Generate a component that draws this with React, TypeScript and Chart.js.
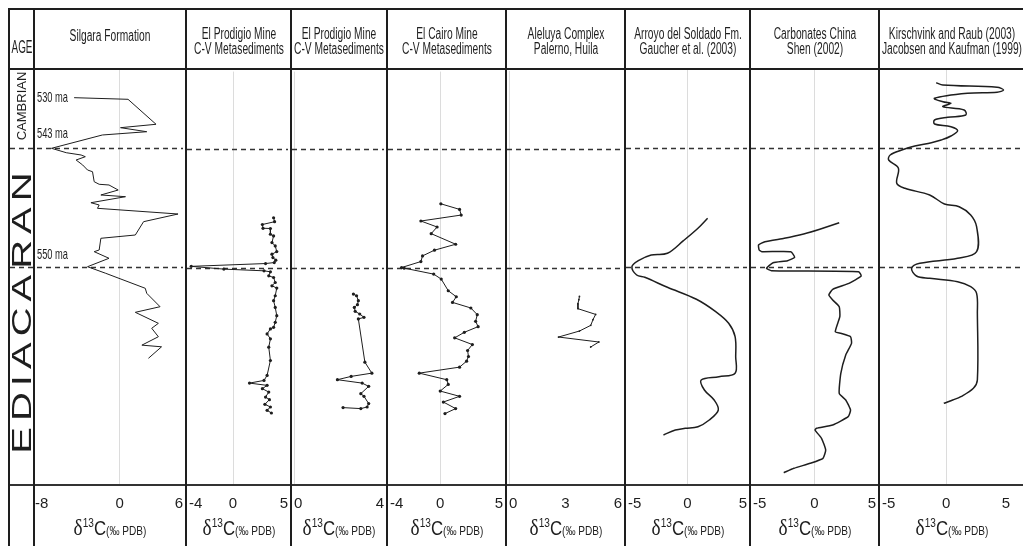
import React, { useEffect, useRef } from 'react';
import { Chart, registerables } from 'chart.js';

Chart.register(...registerables);

// ---------------- data ----------------
// Vertical axis: relative stratigraphic position shared by all columns (0 = top, 100 = base)
const BOUNDARIES = [18.8, 47.5]; // 543 ma and 550 ma correlation lines
const AGE_LABELS = ['530 ma', '543 ma', '550 ma'];
const AGE_LABEL_POS = [6.8, 15.3, 44.6];

const COLUMN_TITLES = [
  ['Silgara Formation'],
  ['El Prodigio Mine', 'C-V Metasediments'],
  ['El Prodigio Mine', 'C-V Metasediments'],
  ['El Cairo Mine', 'C-V Metasediments'],
  ['Aleluya Complex', 'Palerno, Huila'],
  ['Arroyo del Soldado Fm.', 'Gaucher et al. (2003)'],
  ['Carbonates China', 'Shen (2002)'],
  ['Kirschvink and Raub (2003)', 'Jacobsen and Kaufman (1999)'],
];

const X_MIN = [-8, -4, 0, -4, 0, -5, -5, -5];
const X_MAX = [6, 5, 4, 5, 6, 5, 5, 6];
const X_TICKS = [[-8, 0, 6], [-4, 0, 5], [0, 4], [-4, 0, 5], [0, 3, 6], [-5, 0, 5], [-5, 0, 5], [-5, 0, 5]];

const SILGARA_D13C = [-4.30, 0.80, 3.45, 0.09, 2.57, -1.63, -6.44, -5.04, -3.64, -3.24, -4.11, -3.49, -3.03, -2.56, -2.40, -1.93, -1.00, -0.13, -1.77, 0.56, -2.71, -1.93, -2.09, 5.53, 2.27, 1.49, -1.77, -1.93, -2.40, -1.00, -3.03, -1.31, 2.43, 2.57, 3.83, 1.49, 3.67, 3.04, 3.67, 2.11, 3.97, 2.73];
const SILGARA_POS = [6.67, 7.06, 13.08, 13.90, 14.87, 15.66, 18.87, 19.93, 20.48, 20.89, 21.69, 22.89, 24.10, 24.51, 26.92, 27.54, 27.71, 28.92, 30.12, 30.53, 31.98, 32.53, 33.33, 34.70, 36.55, 39.76, 40.55, 43.37, 43.78, 45.37, 47.40, 48.99, 52.60, 53.81, 57.04, 58.39, 61.04, 62.24, 64.27, 66.30, 66.70, 69.47];

const PRODIGIO1_D13C = [3.69, 3.78, 2.67, 2.73, 3.40, 3.40, 3.69, 3.54, 3.84, 3.98, 3.54, 3.63, 3.89, 3.75, 2.96, -3.80, -0.83, 2.82, 3.40, 3.25, 3.69, 3.84, 3.54, 3.98, 3.84, 3.69, 3.84, 3.98, 3.84, 3.69, 3.40, 3.10, 3.40, 3.25, 3.40, 3.10, 2.82, 1.50, 3.10, 2.67, 3.25, 2.96, 3.31, 2.90, 3.40, 3.10, 3.49];
const PRODIGIO1_POS = [35.35, 36.31, 36.99, 37.90, 37.95, 39.35, 39.76, 41.37, 42.17, 43.54, 44.17, 44.99, 45.61, 46.19, 46.43, 47.11, 47.78, 48.19, 48.43, 49.40, 49.81, 51.01, 51.81, 52.36, 54.22, 55.42, 57.04, 59.04, 60.65, 61.86, 62.24, 63.45, 64.65, 66.67, 69.88, 73.49, 74.70, 75.35, 75.90, 76.70, 77.52, 78.72, 79.35, 80.48, 81.13, 81.93, 82.58];

const PRODIGIO2_D13C = [2.64, 2.78, 2.86, 2.82, 2.68, 2.72, 2.92, 3.11, 2.86, 3.15, 3.46, 2.54, 1.93, 3.03, 3.32, 2.97, 3.11, 3.32, 3.25, 2.97, 2.18];
const PRODIGIO2_POS = [53.81, 54.22, 55.42, 56.39, 57.04, 58.00, 58.63, 59.45, 59.83, 70.29, 72.94, 73.73, 74.53, 75.35, 76.14, 77.90, 78.55, 80.31, 81.13, 81.52, 81.28];

const CAIRO_D13C = [0.05, 1.54, 1.67, -1.54, -0.25, -0.72, 1.23, -0.46, -1.41, -1.54, -3.08, -2.87, -0.52, 0.08, 0.64, 1.28, 0.98, 2.44, 2.95, 2.82, 3.02, 1.92, 1.15, 2.56, 2.18, 2.25, 2.10, 1.54, -1.67, 0.52, 0.64, 0.00, 1.54, 0.25, 1.23, 0.38];
const CAIRO_POS = [31.98, 33.33, 34.70, 36.14, 37.59, 39.20, 41.76, 43.20, 44.58, 45.95, 47.40, 47.54, 48.99, 50.19, 53.01, 54.46, 55.83, 57.18, 58.80, 60.41, 61.69, 63.06, 64.41, 66.02, 67.47, 68.92, 70.05, 71.49, 72.94, 74.53, 75.66, 77.28, 78.55, 79.93, 81.52, 82.72];

const ALELUYA_D13C = [3.74, 3.71, 3.66, 3.66, 4.60, 4.46, 4.34, 3.74, 2.63, 4.77, 4.34];
const ALELUYA_POS = [54.46, 55.25, 56.22, 57.42, 58.80, 60.07, 61.45, 62.82, 64.27, 65.47, 66.67];

const ARROYO_D13C = [1.69, 0.88, -0.34, -1.69, -3.05, -4.13, -4.67, -4.27, -3.59, -1.69, 0.75, 2.37, 3.46, 4.00, 4.05, 4.00, 2.64, 1.15, 1.42, 2.24, 2.59, 1.83, 0.88, -0.20, -1.02, -2.02];
const ARROYO_POS = [35.73, 38.14, 41.13, 44.17, 44.58, 45.95, 47.40, 49.40, 49.95, 52.36, 55.25, 58.24, 61.04, 64.27, 69.08, 73.08, 73.90, 74.70, 77.11, 79.52, 81.93, 84.34, 85.95, 86.34, 86.75, 87.95];

const CARBONATES_D13C = [2.01, 0.43, -0.88, -2.46, -4.03, -4.55, -4.50, -4.29, -1.93, -1.61, -2.19, -3.37, -3.90, -3.50, 3.58, 3.80, 2.80, 1.48, 1.17, 1.48, 2.01, 2.06, 1.69, 2.14, 2.93, 3.01, 2.54, 2.14, 2.01, 2.54, 2.93, 2.74, 1.48, 0.17, 0.04, 0.57, 0.91, 0.69, -0.35, -1.67, -2.50];
const CARBONATES_POS = [36.80, 38.39, 39.52, 40.55, 41.37, 42.17, 43.37, 43.78, 43.78, 45.13, 45.95, 46.43, 47.78, 48.36, 48.60, 49.64, 51.40, 52.84, 54.22, 55.42, 57.04, 59.45, 63.06, 63.45, 64.27, 65.86, 68.67, 73.08, 77.90, 79.52, 81.93, 83.54, 85.54, 86.34, 86.75, 88.75, 91.57, 93.57, 94.77, 95.98, 97.04];

const KIRSCHVINK_D13C = [-0.77, -0.25, 3.98, 4.48, 3.98, 1.67, -0.90, -0.25, 0.38, -0.25, 1.41, 1.54, 0.13, -0.90, -0.90, 0.38, 0.90, 0.38, -0.38, -1.15, -2.44, -3.46, -4.36, -4.48, -3.72, -3.85, -3.21, -1.28, -0.13, 1.02, 1.92, 2.38, 2.38, 0.90, -2.05, -2.69, -2.31, -1.28, 0.90, 1.92, 2.38, 2.44, 2.44, 2.13, 1.15, 0.52, -0.18];
const KIRSCHVINK_POS = [3.06, 3.61, 4.17, 4.82, 5.37, 5.61, 6.82, 7.64, 8.02, 8.84, 9.64, 10.84, 11.40, 12.05, 13.01, 13.66, 14.63, 15.90, 16.87, 17.52, 18.31, 19.28, 20.48, 21.69, 23.69, 27.30, 28.51, 30.12, 32.29, 32.94, 34.94, 37.76, 43.78, 45.37, 46.58, 47.78, 49.64, 50.19, 51.01, 52.22, 53.81, 58.63, 74.70, 76.70, 78.72, 79.52, 80.31];

const SERIES_X = [SILGARA_D13C, PRODIGIO1_D13C, PRODIGIO2_D13C, CAIRO_D13C, ALELUYA_D13C, ARROYO_D13C, CARBONATES_D13C, KIRSCHVINK_D13C];
const SERIES_Y = [SILGARA_POS, PRODIGIO1_POS, PRODIGIO2_POS, CAIRO_POS, ALELUYA_POS, ARROYO_POS, CARBONATES_POS, KIRSCHVINK_POS];

// ---------------- styles / layout ----------------
const EDGES = [9, 34, 186, 291, 387, 506, 625, 750, 879, 1024];
const POINT_RADIUS = [0, 1.6, 1.6, 1.6, 0.9, 0, 0, 0];
const TENSION = [0, 0, 0, 0, 0, 0.35, 0.15, 0.35];
const LINE_W = [1, 1, 1, 1, 1, 1.5, 1.5, 1.5];

const PLOT_TOP = 70;
const CANVAS_H = 476;
const AXIS_H = 61;
const INK = '#1e1e1e';
const SANS = '"Liberation Sans", Arial, sans-serif';

const boundaryPlugin = {
  id: 'boundaries',
  beforeDatasetsDraw(chart: any) {
    const { ctx, chartArea } = chart;
    const y = chart.scales.y;
    ctx.save();
    ctx.strokeStyle = '#333';
    ctx.lineWidth = 1.3;
    ctx.setLineDash([5, 4]);
    BOUNDARIES.forEach((b) => {
      const py = Math.round(y.getPixelForValue(b)) + 0.5;
      ctx.beginPath();
      ctx.moveTo(0, py); // runs through the AGE column on the first panel
      ctx.lineTo(chartArea.right, py);
      ctx.stroke();
    });
    ctx.restore();
  },
};

const ageLabelPlugin = {
  id: 'ageLabels',
  afterDatasetsDraw(chart: any, _args: any, opts: any) {
    if (!opts || !opts.show) return;
    const { ctx, chartArea } = chart;
    const y = chart.scales.y;
    ctx.save();
    ctx.fillStyle = INK;
    ctx.font = '15px ' + SANS;
    ctx.textBaseline = 'middle';
    AGE_LABELS.forEach((lab, i) => {
      ctx.save();
      ctx.translate(chartArea.left + 2, y.getPixelForValue(AGE_LABEL_POS[i]));
      ctx.scale(0.62, 1);
      ctx.fillText(lab, 0, 0);
      ctx.restore();
    });
    ctx.restore();
  },
};

function PanelChart({ idx }: { idx: number }) {
  const ref = useRef<HTMLCanvasElement | null>(null);
  const col = idx + 1; // column 0 is AGE
  const first = idx === 0;
  const left = first ? EDGES[0] + 1 : EDGES[col] + 1;
  const padLeft = first ? EDGES[1] - EDGES[0] : 0;
  const width = EDGES[col + 1] - 1 - left;
  useEffect(() => {
    if (!ref.current) return;
    const ticks = X_TICKS[idx];
    const chart = new Chart(ref.current, {
      type: 'scatter',
      data: {
        datasets: [
          {
            data: SERIES_X[idx].map((v, i) => ({ x: v, y: SERIES_Y[idx][i] })),
            showLine: true,
            borderColor: INK,
            backgroundColor: INK,
            borderWidth: LINE_W[idx],
            pointRadius: POINT_RADIUS[idx],
            pointHoverRadius: POINT_RADIUS[idx],
            pointBorderWidth: 0,
            tension: TENSION[idx],
            fill: false,
          },
        ],
      },
      options: {
        animation: false,
        responsive: false,
        devicePixelRatio: 1,
        events: [],
        layout: { padding: { left: padLeft, right: 0, top: 0, bottom: 0 } },
        plugins: {
          legend: { display: false },
          tooltip: { enabled: false },
          ageLabels: { show: first },
        } as any,
        scales: {
          x: {
            type: 'linear',
            min: X_MIN[idx],
            max: X_MAX[idx],
            afterBuildTicks: (s: any) => {
              s.ticks = ticks.map((v) => ({ value: v }));
            },
            afterFit: (s: any) => {
              s.height = AXIS_H;
            },
            ticks: {
              align: 'inner',
              padding: 2,
              color: INK,
              maxRotation: 0,
              autoSkip: false,
              font: { family: SANS, size: 15 },
              callback: (v: any) => String(v),
            },
            grid: {
              drawTicks: true,
              tickLength: 8,
              tickColor: 'rgba(0,0,0,0)',
              lineWidth: 1,
              color: (c: any) => (c.tick && c.tick.value === 0 ? '#dcdcdc' : 'rgba(0,0,0,0)'),
            },
            border: { display: false },
          } as any,
          y: { type: 'linear', min: 0, max: 100, reverse: true, display: false },
        },
      },
      plugins: [boundaryPlugin, ageLabelPlugin],
    });
    return () => chart.destroy();
  }, []);
  return (
    <canvas
      ref={ref}
      width={width}
      height={CANVAS_H}
      style={{ position: 'absolute', left, top: PLOT_TOP, width, height: CANVAS_H }}
    />
  );
}

function Line({ l, t, w, h, c = INK }: { l: number; t: number; w: number; h: number; c?: string }) {
  return <div style={{ position: 'absolute', left: l, top: t, width: w, height: h, background: c }} />;
}

function Centered({ x0, x1, top, height, sx, children, style }: any) {
  return (
    <div style={{ position: 'absolute', left: x0, width: x1 - x0, top, height }}>
      <span
        style={{
          position: 'absolute',
          left: '50%',
          top: 0,
          whiteSpace: 'nowrap',
          lineHeight: height + 'px',
          transform: `translateX(-50%) scaleX(${sx})`,
          fontFamily: SANS,
          color: INK,
          ...style,
        }}
      >
        {children}
      </span>
    </div>
  );
}

function HeaderLine({ x0, x1, cy, text, size = 16, sx = 0.64 }: any) {
  return (
    <Centered x0={x0} x1={x1} top={cy - 10} height={20} sx={sx} style={{ fontSize: size }}>
      {text}
    </Centered>
  );
}

function AxisTitle({ x0, x1 }: { x0: number; x1: number }) {
  return (
    <Centered x0={x0} x1={x1} top={514} height={28} sx={0.84} style={{ fontSize: 20 }}>
      <span style={{ fontFamily: '"Liberation Serif", serif', fontSize: 23 }}>δ</span>
      <span style={{ fontSize: 12, position: 'relative', top: -8 }}>13</span>
      <span>C</span>
      <span style={{ fontSize: 12 }}>(‰ PDB)</span>
    </Centered>
  );
}

function Rotated({ cx, cy, text, size, spacing = 0, sx = 1 }: any) {
  return (
    <div style={{ position: 'absolute', left: cx, top: cy, width: 0, height: 0 }}>
      <div
        style={{
          position: 'absolute',
          left: 0,
          top: 0,
          whiteSpace: 'nowrap',
          fontFamily: SANS,
          fontSize: size,
          lineHeight: 1,
          letterSpacing: spacing,
          color: INK,
          transformOrigin: '0 0',
          transform: `scaleX(${sx}) rotate(-90deg) translate(-50%, -50%)`,
        }}
      >
        {text}
      </div>
    </div>
  );
}

export default function App() {
  const panelIdx = [0, 1, 2, 3, 4, 5, 6, 7];
  return (
    <div
      style={{
        position: 'absolute',
        left: 0,
        top: 0,
        width: 1023,
        height: 546,
        overflow: 'hidden',
        background: '#fff',
      }}
    >
      {panelIdx.map((i) => (
        <PanelChart key={i} idx={i} />
      ))}
      {/* frame */}
      <Line l={8} t={8} w={1016} h={2} />
      <Line l={8} t={68} w={1016} h={2} />
      <Line l={8} t={484} w={1016} h={2} c="#333" />
      {EDGES.slice(0, -1).map((e) => (
        <Line key={e} l={e - 1} t={8} w={2} h={540} />
      ))}
      {/* header */}
      <HeaderLine x0={EDGES[0]} x1={EDGES[1]} cy={47} text="AGE" size={18} sx={0.55} />
      {COLUMN_TITLES.map((lines, i) =>
        lines.length === 1 ? (
          <HeaderLine key={i} x0={EDGES[i + 1]} x1={EDGES[i + 2]} cy={36} text={lines[0]} />
        ) : (
          <React.Fragment key={i}>
            <HeaderLine x0={EDGES[i + 1]} x1={EDGES[i + 2]} cy={33.5} text={lines[0]} />
            <HeaderLine x0={EDGES[i + 1]} x1={EDGES[i + 2]} cy={48.5} text={lines[1]} />
          </React.Fragment>
        )
      )}
      {/* age column */}
      <Rotated cx={21} cy={106} text="CAMBRIAN" size={13} />
      <Rotated cx={21} cy={310} text="EDIACARAN" size={40} spacing={6} sx={0.68} />
      {/* axis titles */}
      {COLUMN_TITLES.map((_, i) => (
        <AxisTitle key={i} x0={EDGES[i + 1]} x1={EDGES[i + 2]} />
      ))}
    </div>
  );
}
